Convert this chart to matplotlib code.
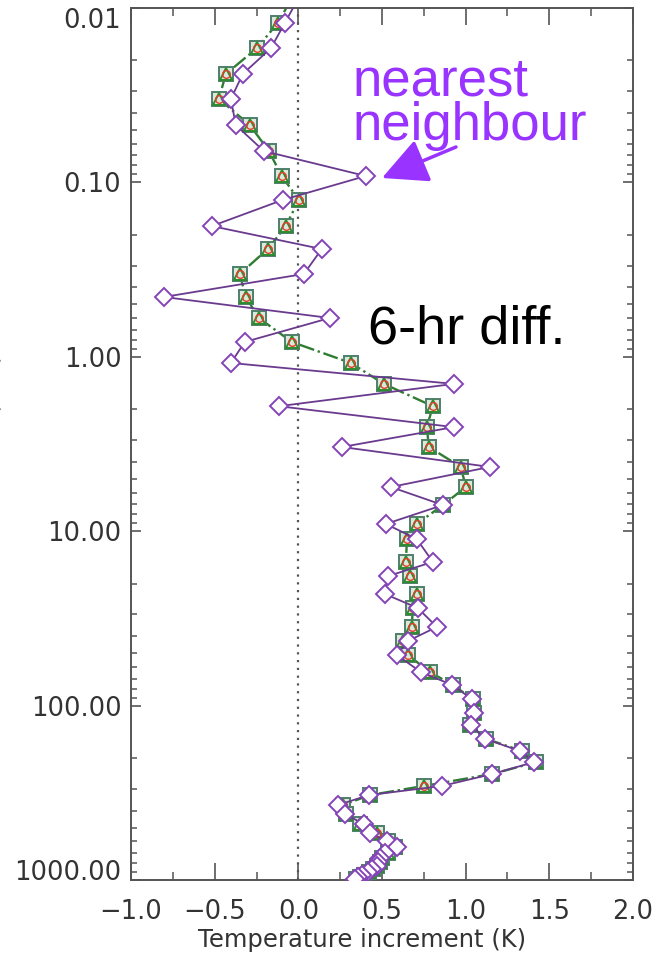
import numpy as np
import matplotlib
matplotlib.use("Agg")
import matplotlib.pyplot as plt
from matplotlib.ticker import FixedLocator, FuncFormatter, LogLocator, NullFormatter, MultipleLocator

# ---------------- data ----------------
pressure = [0.0088, 0.0122, 0.0170, 0.0239, 0.0332, 0.0469, 0.0661, 0.0919, 0.126, 0.178,
            0.241, 0.335, 0.454, 0.599, 0.822, 1.085, 1.43, 1.92, 2.53, 3.29,
            4.28, 5.58, 7.08, 9.09, 11.1, 15.0, 18.1, 22.9, 27.6, 35.4,
            42.6, 51.3, 64.2, 76.2, 91.7, 110, 129, 155, 182, 211,
            247, 289, 326, 372, 418, 478, 538, 598, 647, 700,
            748, 789, 831, 865, 900, 936, 961, 987]

nearest_neighbour = [0.00, -0.081, -0.164, -0.332, -0.403, -0.374, -0.206, 0.403, -0.093, -0.517,
                     0.140, 0.033, -0.804, 0.188, -0.320, -0.403, 0.929, -0.117, 0.929, 0.260,
                     1.145, 0.553, 0.864, 0.523, 0.708, 0.804, 0.535, 0.517, 0.714, 0.828,
                     0.655, 0.589, 0.732, 0.920, 1.037, 1.049, 1.031, 1.115, 1.324, 1.408,
                     1.157, 0.858, 0.421, 0.236, 0.278, 0.391, 0.427, 0.529, 0.589, 0.517,
                     0.487, 0.475, 0.469, 0.439, 0.415, 0.380, 0.356, 0.338]

other_interp = [-0.039, -0.123, -0.248, -0.433, -0.475, -0.290, -0.176, -0.099, 0.003, -0.075,
                -0.182, -0.350, -0.314, -0.236, -0.039, 0.314, 0.511, 0.804, 0.768, 0.780,
                0.971, 1.001, 0.864, 0.708, 0.649, 0.643, 0.666, 0.708, 0.684, 0.678,
                0.625, 0.655, 0.786, 0.923, 1.043, 1.049, 1.025, 1.121, 1.336, 1.420,
                1.157, 0.750, 0.427, 0.266, 0.284, 0.368, 0.469, 0.535, 0.577, 0.535,
                0.499, 0.487, 0.469, 0.445, 0.421, 0.391, 0.368, 0.344]

x_ticks = [-1.0, -0.5, 0.0, 0.5, 1.0, 1.5, 2.0]
y_ticks = [0.01, 0.1, 1, 10, 100, 1000]

# ---------------- figure ----------------
W, H = 663, 955
fig = plt.figure(figsize=(W / 100, H / 100), dpi=100)
ax = fig.add_axes([131 / W, 75 / H, (633 - 131) / W, (880 - 8) / H])

ax.axvline(0.0, color="#555555", ls=(0, (1, 2.5)), lw=1.6, zorder=1)

# green dash-dot series (square / triangle / circle overlap)
ax.plot(other_interp, pressure, color="#2e7d32", ls="-.", lw=1.7, zorder=2)
ax.plot(other_interp, pressure, ls="none", marker="s", ms=9.5, mfc="#dde8dd",
        mec="#4f7f6a", mew=1.4, zorder=3)
ax.plot(other_interp, pressure, ls="none", marker="^", ms=8, mfc="none",
        mec="#2e8b2e", mew=1.4, zorder=4)
ax.plot(other_interp, pressure, ls="none", marker="o", ms=5.5, mfc="none",
        mec="#e0402a", mew=1.0, zorder=4)

# nearest neighbour (purple diamonds)
ax.plot(nearest_neighbour, pressure, color="#6a3a8e", lw=1.3, marker="D", ms=9.5,
        mfc="white", mec="#8444b8", mew=1.4, zorder=5)

ax.set_xlim(-1.0, 2.0)
ax.set_yscale("log")
ax.set_ylim(1000, 0.01)

ax.xaxis.set_major_locator(FixedLocator(x_ticks))
ax.xaxis.set_minor_locator(MultipleLocator(0.25))
ax.set_xticklabels([f"{v:.1f}".replace("-", "\u2212") for v in x_ticks])
ax.yaxis.set_major_locator(FixedLocator(y_ticks))
ax.yaxis.set_major_formatter(FuncFormatter(lambda v, p: f"{v:.2f}"))
ax.yaxis.set_minor_locator(LogLocator(base=10, subs=np.arange(2, 10)))
ax.yaxis.set_minor_formatter(NullFormatter())

tick_col = "#555555"
lab_col = "#333333"
ax.tick_params(axis="x", which="major", direction="in", length=12.5, width=1.2,
               top=True, bottom=True, color=tick_col, labelsize=18.5, labelcolor=lab_col, pad=14)
ax.tick_params(axis="x", which="minor", direction="in", length=6, width=1.1,
               top=True, bottom=True, color=tick_col)
ax.tick_params(axis="y", which="major", direction="in", length=7.5, width=1.2,
               left=True, right=True, color=tick_col, labelsize=18.5, labelcolor=lab_col, pad=7)
ax.tick_params(axis="y", which="minor", direction="in", length=4, width=1.1,
               left=True, right=True, color=tick_col)
for s in ax.spines.values():
    s.set_color("#555555")
    s.set_linewidth(1.4)

# end labels sit inside the axis span, as in the reference
fig.canvas.draw()
ylabels = ax.get_yticklabels()
ylabels[0].set_va("top")
ylabels[-1].set_va("baseline")

ax.set_xlabel("Temperature increment (K)", fontsize=17.5, color=lab_col)
ax.xaxis.set_label_coords((362 - 131) / (633 - 131), -(940 - 880) / (880 - 8))
ax.xaxis.label.set_va("center")
fig.text(3 / W, 1 - 438 / H, "Pressure (hPa)", rotation=90, ha="right", va="center",
         fontsize=17, color=lab_col)

# annotations
purple = "#9933ff"
fig.text(353 / W, 1 - 140 / H, "nearest\nneighbour", fontsize=38, color=purple,
         family="Liberation Sans", va="baseline", ha="left", linespacing=0.85)
ax.annotate("", xy=(382, H - 178), xycoords="figure pixels",
            xytext=(456, H - 147), textcoords="figure pixels",
            arrowprops=dict(arrowstyle="-|>,head_length=1.4,head_width=0.7",
                            color=purple, lw=2.5, mutation_scale=20, shrinkA=0, shrinkB=0))
fig.text(368 / W, 1 - 343 / H, "6-hr diff.", fontsize=39, color="black",
         family="Liberation Sans", va="baseline", ha="left")

fig.savefig("out.png", dpi=100)
